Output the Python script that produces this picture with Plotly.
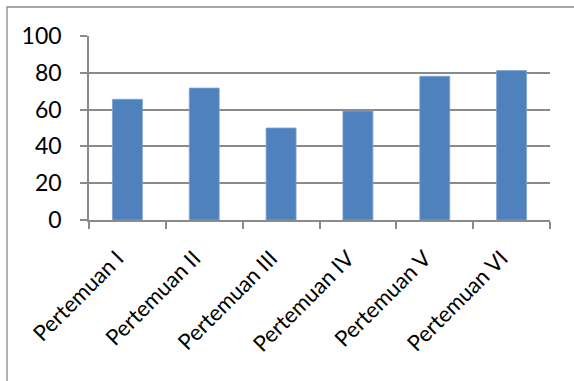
import plotly.graph_objects as go

# Nilai rata-rata per pertemuan
categories = ["Pertemuan I", "Pertemuan II", "Pertemuan III",
              "Pertemuan IV", "Pertemuan V", "Pertemuan VI"]
values = [65.6, 71.7, 50, 59.2, 78.1, 81.2]
y_ticks = [0, 20, 40, 60, 80, 100]

W, H = 574, 381
L, R, T, B = 89, 24, 36, 161
pw, ph = W - L - R, H - T - B

fig = go.Figure(go.Bar(
    x=categories, y=values,
    marker=dict(color="#4f81bd", line=dict(color="#7fa2d0", width=0.8)),
    width=0.39,
))

grid = "#8a8a8a"
font = dict(family="Lato, Calibri, sans-serif", size=22, color="#000000")

fig.update_layout(
    width=W, height=H,
    margin=dict(l=L, r=R, t=T, b=B),
    paper_bgcolor="white", plot_bgcolor="white",
    showlegend=False,
    font=font,
    bargap=0.61,
)
fig.update_yaxes(
    range=[0, 100], tickvals=y_ticks, showgrid=True, gridcolor=grid, gridwidth=1.5,
    showline=True, linecolor=grid, linewidth=1.5,
    ticks="outside", ticklen=7, tickcolor=grid, tickwidth=1.5,
    tickfont=dict(size=23), zeroline=False, ticklabelstandoff=14,
)
fig.update_xaxes(
    range=[-0.5, 5.5],
    showline=True, linecolor=grid, linewidth=1.5,
    ticks="outside", ticklen=7, tickcolor=grid, tickwidth=1.5,
    tickson="boundaries", tickangle=-45, tickfont=dict(size=22),
    ticklabelstandoff=15, ticklabelshift=-10,
)

# chart frame
def px_to_paper_x(px):
    return (px - L) / pw

def px_to_paper_y(py):
    return (H - B - py) / ph

fig.add_shape(type="rect", xref="paper", yref="paper",
              x0=px_to_paper_x(7), x1=px_to_paper_x(600),
              y0=px_to_paper_y(400), y1=px_to_paper_y(7),
              line=dict(color="#8a8a8a", width=1.3), layer="below")

fig.write_html("out.html")
